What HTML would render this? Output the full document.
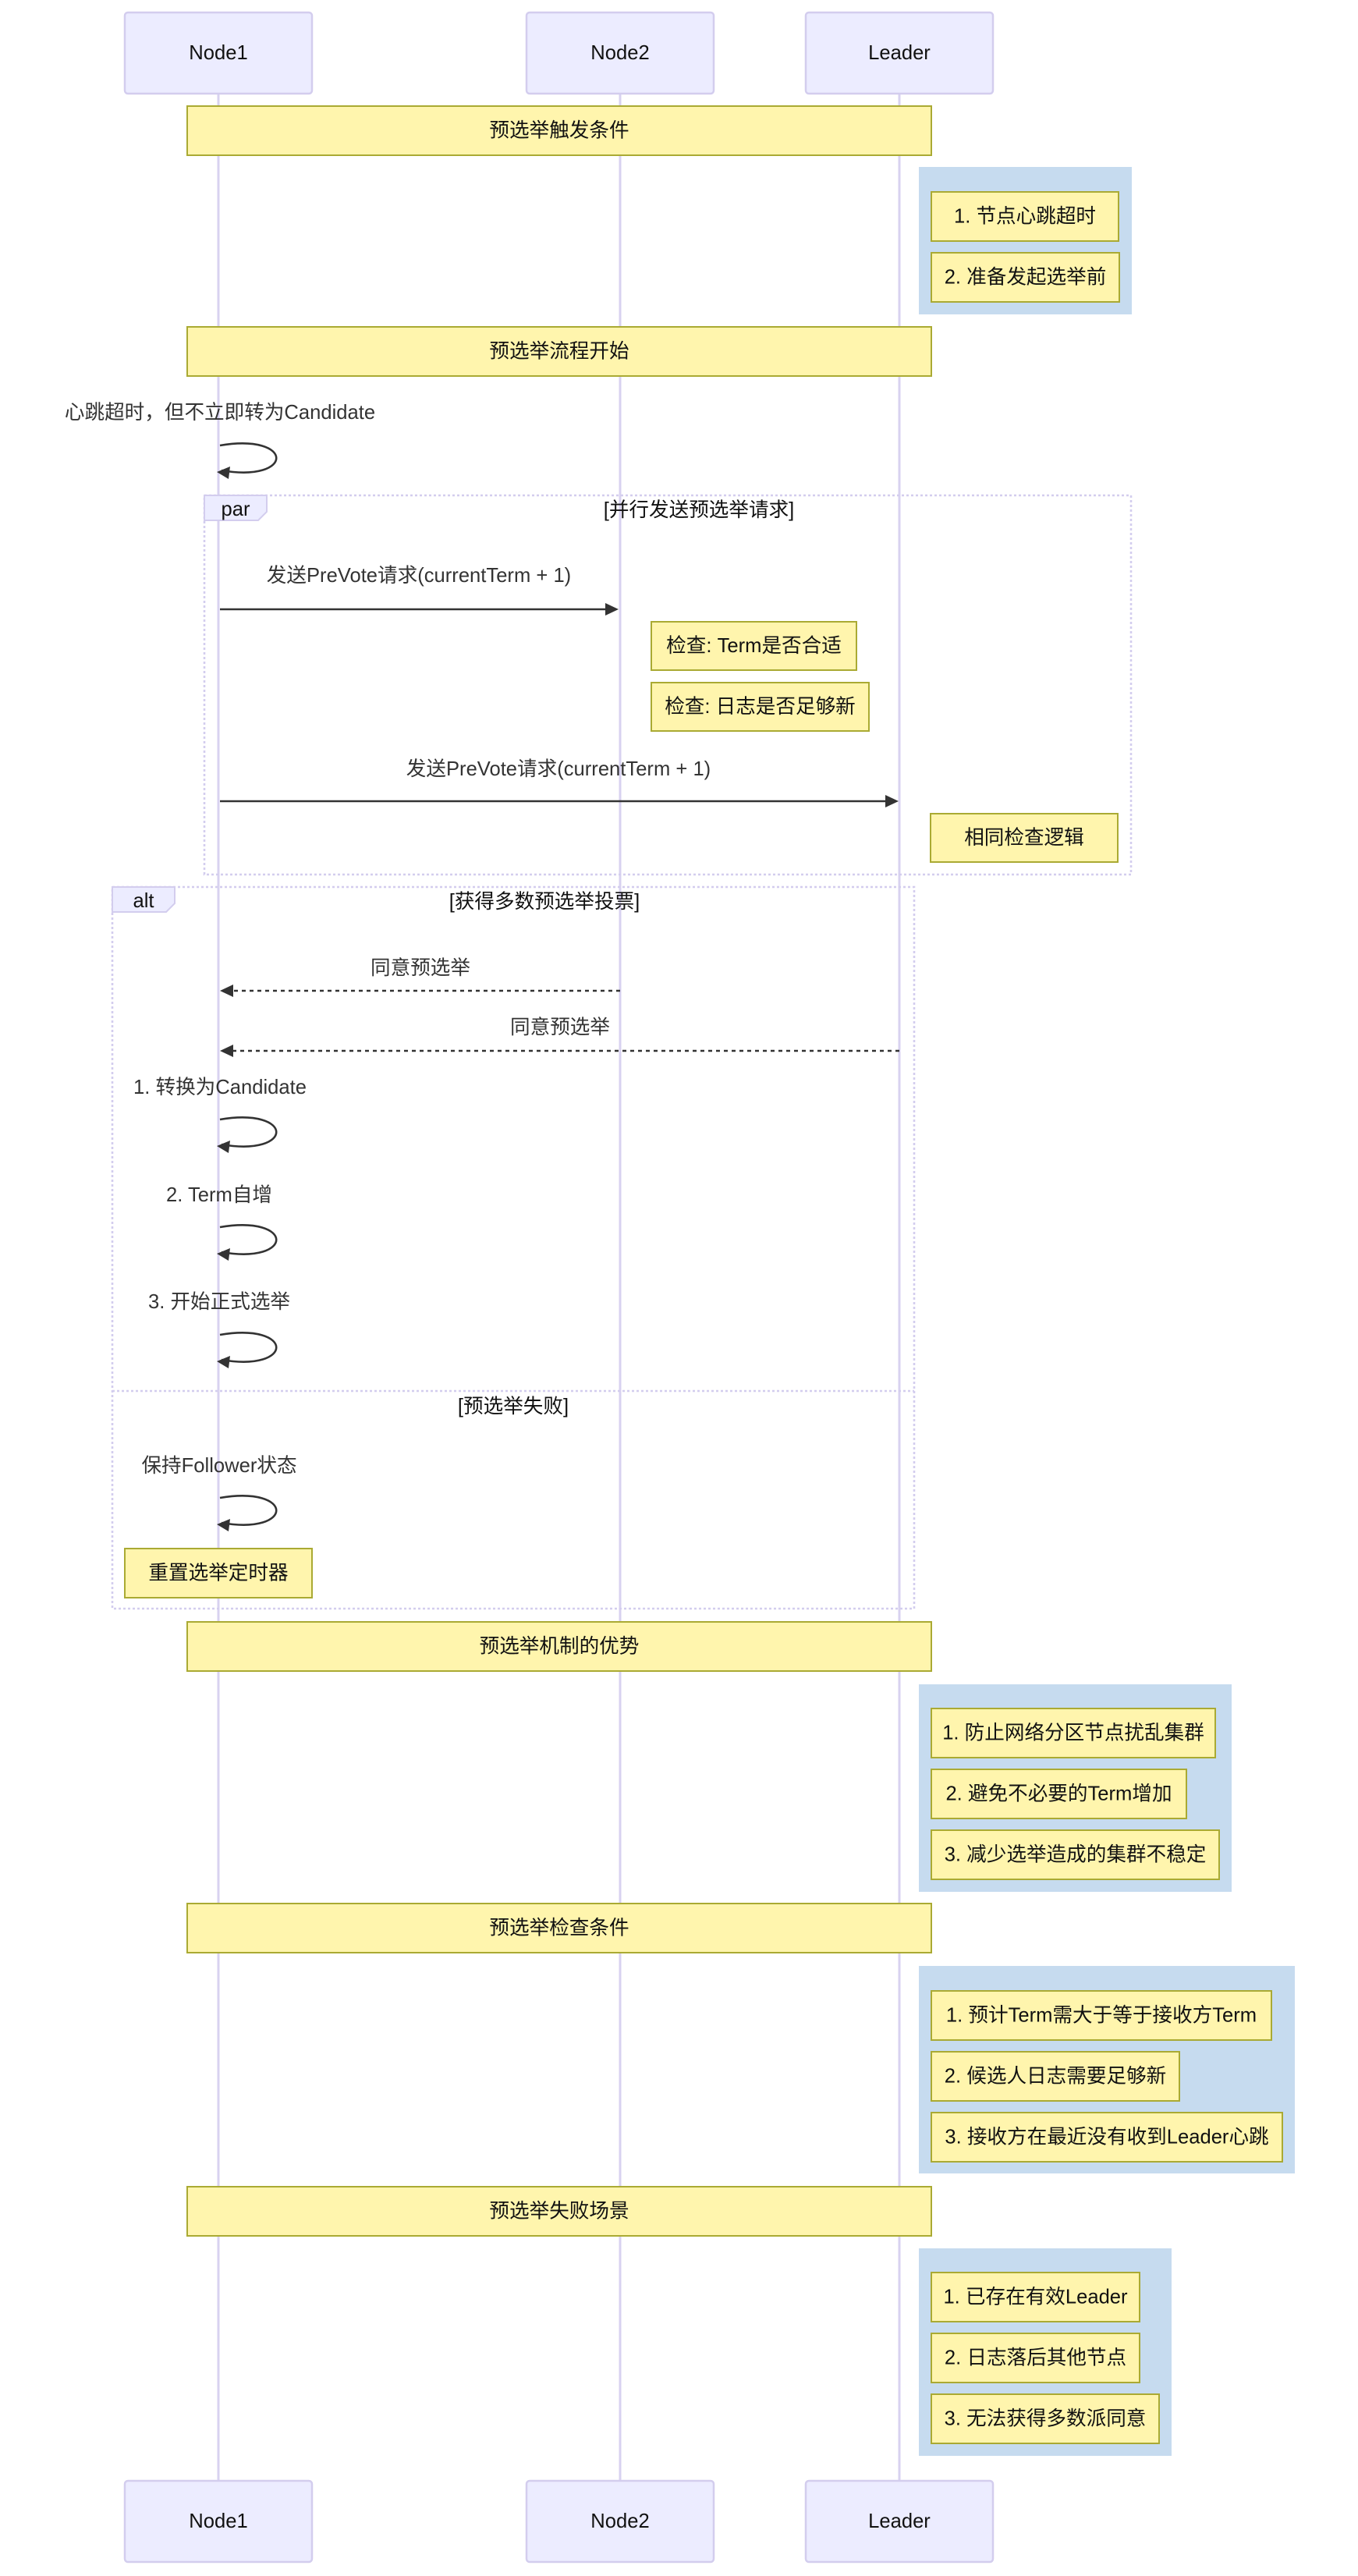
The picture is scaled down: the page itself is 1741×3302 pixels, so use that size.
<!DOCTYPE html>
<html><head><meta charset="utf-8">
<style>
html,body{margin:0;padding:0;background:#fff;}
svg{display:block;}
text{font-family:"Liberation Sans","Noto Sans CJK SC",sans-serif;font-size:25.6px;}
.actor{fill:#ececff;stroke:#d3cdee;stroke-width:2.5;}
.life{stroke:#d8d2f0;stroke-width:3;}
.note{fill:#fff5ad;stroke:#aaaa33;stroke-width:2;}
.ntext{fill:#111;text-anchor:middle;dominant-baseline:central;}
.mtext{fill:#333;text-anchor:middle;dominant-baseline:central;}
.atext{fill:#111;text-anchor:middle;dominant-baseline:central;}
.msg{stroke:#333;stroke-width:2.6;fill:none;}
.dash{stroke-dasharray:5,5;}
.loop{stroke:#d3cdee;stroke-width:2.6;stroke-dasharray:3,3;fill:none;}
.lbl{fill:#ececff;stroke:#d3cdee;stroke-width:2;}
.rect{fill:#c6dbef;}
.head{fill:#333;}
</style></head>
<body>
<svg width="1741" height="3302" viewBox="0 0 1741 3302" xmlns="http://www.w3.org/2000/svg">
<rect x="0" y="0" width="1741" height="3302" fill="#fff"/>

<!-- lifelines -->
<line class="life" x1="280" y1="120" x2="280" y2="3180"/>
<line class="life" x1="795" y1="120" x2="795" y2="3180"/>
<line class="life" x1="1153" y1="120" x2="1153" y2="3180"/>

<!-- actors top -->
<rect class="actor" x="160" y="16" width="240" height="104" rx="4"/>
<text class="atext" x="280" y="68">Node1</text>
<rect class="actor" x="675" y="16" width="240" height="104" rx="4"/>
<text class="atext" x="795" y="68">Node2</text>
<rect class="actor" x="1033" y="16" width="240" height="104" rx="4"/>
<text class="atext" x="1153" y="68">Leader</text>

<!-- actors bottom -->
<rect class="actor" x="160" y="3180" width="240" height="104" rx="4"/>
<text class="atext" x="280" y="3232">Node1</text>
<rect class="actor" x="675" y="3180" width="240" height="104" rx="4"/>
<text class="atext" x="795" y="3232">Node2</text>
<rect class="actor" x="1033" y="3180" width="240" height="104" rx="4"/>
<text class="atext" x="1153" y="3232">Leader</text>

<!-- notes over all -->
<rect class="note" x="240" y="136" width="954" height="63"/>
<text class="ntext" x="717" y="167.5">预选举触发条件</text>
<rect class="note" x="240" y="419" width="954" height="63"/>
<text class="ntext" x="717" y="450.5">预选举流程开始</text>
<rect class="note" x="240" y="2079" width="954" height="63"/>
<text class="ntext" x="717" y="2110.5">预选举机制的优势</text>
<rect class="note" x="240" y="2440" width="954" height="63"/>
<text class="ntext" x="717" y="2471.5">预选举检查条件</text>
<rect class="note" x="240" y="2803" width="954" height="63"/>
<text class="ntext" x="717" y="2834.5">预选举失败场景</text>

<!-- R1 -->
<rect class="rect" x="1178" y="214" width="273" height="189"/>
<rect class="note" x="1194" y="246" width="240" height="63"/>
<text class="ntext" x="1314" y="277.5">1. 节点心跳超时</text>
<rect class="note" x="1194" y="324" width="241" height="63"/>
<text class="ntext" x="1314.5" y="355.5">2. 准备发起选举前</text>

<!-- R2 -->
<rect class="rect" x="1178" y="2159" width="401" height="266"/>
<rect class="note" x="1194" y="2190" width="364" height="63"/>
<text class="ntext" x="1376" y="2221.5">1. 防止网络分区节点扰乱集群</text>
<rect class="note" x="1194" y="2268" width="327" height="63"/>
<text class="ntext" x="1357.5" y="2299.5">2. 避免不必要的Term增加</text>
<rect class="note" x="1194" y="2346" width="369" height="63"/>
<text class="ntext" x="1378.5" y="2377.5">3. 减少选举造成的集群不稳定</text>

<!-- R3 -->
<rect class="rect" x="1178" y="2520" width="482" height="266"/>
<rect class="note" x="1194" y="2552" width="436" height="63"/>
<text class="ntext" x="1412" y="2583.5">1. 预计Term需大于等于接收方Term</text>
<rect class="note" x="1194" y="2630" width="318" height="63"/>
<text class="ntext" x="1353" y="2661.5">2. 候选人日志需要足够新</text>
<rect class="note" x="1194" y="2708" width="450" height="63"/>
<text class="ntext" x="1419" y="2739.5">3. 接收方在最近没有收到Leader心跳</text>

<!-- R4 -->
<rect class="rect" x="1178" y="2882" width="324" height="266"/>
<rect class="note" x="1194" y="2913" width="267" height="63"/>
<text class="ntext" x="1327.5" y="2944.5">1. 已存在有效Leader</text>
<rect class="note" x="1194" y="2991" width="267" height="63"/>
<text class="ntext" x="1327.5" y="3022.5">2. 日志落后其他节点</text>
<rect class="note" x="1194" y="3069" width="292" height="63"/>
<text class="ntext" x="1340" y="3100.5">3. 无法获得多数派同意</text>

<!-- self message 0 -->
<text class="mtext" x="282" y="529">心跳超时，但不立即转为Candidate</text>
<path class="msg" d="M282,571 C378,555 378,619 284,603"/>
<polygon class="head" points="278,605 295,598 293,614"/>

<!-- par block -->
<rect class="loop" x="262" y="635" width="1188" height="486"/>
<polygon class="lbl" points="262,635 342,635 342,656 331,667 262,667"/>
<text class="atext" x="302" y="653">par</text>
<text class="atext" x="896" y="654">[并行发送预选举请求]</text>

<text class="mtext" x="537" y="738">发送PreVote请求(currentTerm + 1)</text>
<line class="msg" x1="282" y1="781" x2="778" y2="781"/>
<polygon class="head" points="793,781 776,773 776,789"/>

<rect class="note" x="835" y="797" width="263" height="62"/>
<text class="ntext" x="966.5" y="828">检查: Term是否合适</text>
<rect class="note" x="835" y="875" width="279" height="62"/>
<text class="ntext" x="974.5" y="906">检查: 日志是否足够新</text>

<text class="mtext" x="716" y="986">发送PreVote请求(currentTerm + 1)</text>
<line class="msg" x1="282" y1="1027" x2="1137" y2="1027"/>
<polygon class="head" points="1152,1027 1135,1019 1135,1035"/>

<rect class="note" x="1193" y="1043" width="240" height="62"/>
<text class="ntext" x="1313" y="1074">相同检查逻辑</text>

<!-- alt block -->
<rect class="loop" x="144" y="1137" width="1028" height="925"/>
<polygon class="lbl" points="144,1137 224,1137 224,1158 213,1169 144,1169"/>
<text class="atext" x="184" y="1155">alt</text>
<text class="atext" x="698" y="1156">[获得多数预选举投票]</text>

<text class="mtext" x="539" y="1241">同意预选举</text>
<line class="msg dash" x1="795" y1="1270" x2="297" y2="1270"/>
<polygon class="head" points="282,1270 299,1262 299,1278"/>

<text class="mtext" x="718" y="1317">同意预选举</text>
<line class="msg dash" x1="1153" y1="1347" x2="297" y2="1347"/>
<polygon class="head" points="282,1347 299,1339 299,1355"/>

<text class="mtext" x="282" y="1394">1. 转换为Candidate</text>
<path class="msg" d="M282,1435 C378,1419 378,1483 284,1467"/>
<polygon class="head" points="278,1469 295,1462 293,1478"/>

<text class="mtext" x="281" y="1532">2. Term自增</text>
<path class="msg" d="M282,1573 C378,1557 378,1621 284,1605"/>
<polygon class="head" points="278,1607 295,1600 293,1616"/>

<text class="mtext" x="281" y="1669">3. 开始正式选举</text>
<path class="msg" d="M282,1711 C378,1695 378,1759 284,1743"/>
<polygon class="head" points="278,1745 295,1738 293,1754"/>

<line class="loop" x1="144" y1="1783" x2="1172" y2="1783"/>
<text class="atext" x="658" y="1803">[预选举失败]</text>

<text class="mtext" x="281" y="1879">保持Follower状态</text>
<path class="msg" d="M282,1920 C378,1904 378,1968 284,1952"/>
<polygon class="head" points="278,1954 295,1947 293,1963"/>

<rect class="note" x="160" y="1985" width="240" height="63"/>
<text class="ntext" x="280" y="2016.5">重置选举定时器</text>

</svg>
</body></html>
